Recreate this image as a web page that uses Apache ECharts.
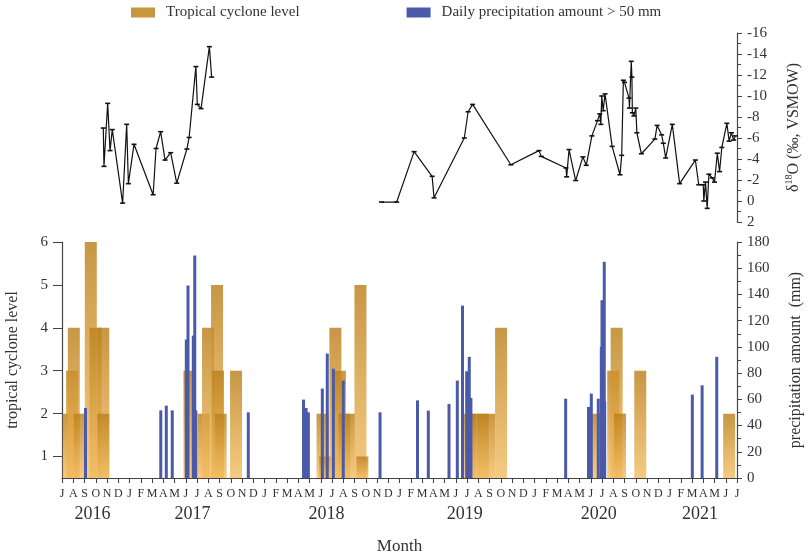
<!DOCTYPE html>
<html>
<head>
<meta charset="utf-8">
<script src="https://cdn.jsdelivr.net/npm/echarts@6/dist/echarts.min.js"></script>
<style>
  html, body { margin: 0; padding: 0; background: #fff; }
  #main { width: 809px; height: 552px; }
</style>
</head>
<body>
<div id="main"></div>
<script>
// month index: 0 = Jul 2016 ... 60 = Jul 2021
var monthLetters = ['J', 'A', 'S', 'O', 'N', 'D', 'J', 'F', 'M', 'A', 'M', 'J'];
var yearLabels = ['2016', '2017', '2018', '2019', '2020', '2021'];
var yearPos = [2.7, 11.6, 23.5, 35.8, 47.7, 56.7];

// δ18O samples (null = gap in record)
var isoMonth = [3.67, 3.73, 4.06, 4.27, 4.47, 5.39, 5.75, 5.9, 6.4, 8.1, 8.36, 8.77, 9.16, 9.66, 10.2, 11.1, 11.3, 11.9, 12.03, 12.36, 13.1, 13.3,
  20,
  28.4, 29.75, 31.3, 32.9, 33.07, 35.76, 36.1, 36.5, 39.9, 42.4,
  42.6, 44.8, 44.86, 45.07, 45.66, 46.3, 46.6, 47.1, 47.6, 47.8,
  47.9, 47.98, 48.1, 48.27, 48.9, 49.6, 49.75, 49.9, 50.0, 50.4,
  50.44, 50.6, 50.66, 50.7, 50.84, 51.0, 51.1, 51.5, 52.7, 52.9,
  53.3, 53.45, 53.66, 54.25, 54.9, 56.3, 56.6, 57.0, 57.05, 57.2,
  57.35, 57.5, 57.8, 58.0, 58.25, 58.45, 58.65, 59.1, 59.3, 59.5,
  59.7, 59.85];
var isoValue = [-6.95, -3.3, -9.3, -4.8, -6.8, 0.2, -7.3, -1.65, -5.4, -0.6, -5, -6.6, -3.9, -4.6, -1.7, -4.95, -6.05, -12.8, -9.2, -8.8, -14.7, -11.8,
  null,
  0.1, 0.1, -4.7, -2.35, -0.3, -6.0, -8.5, -9.2, -3.45, -4.8,
  -4.25, -3.15, -2.3, -4.9, -1.95, -4.2, -3.4, -6.2, -7.65, -8.3,
  -7.3, -10, -8.6, -10.2, -5.2, -2.5, -4.35, -11.5, -11.3, -9.8,
  -8.85, -13.3, -11.8, -8.4, -8.1, -8.85, -6.5, -4.5, -5.9, -7.2,
  -6.3, -5.5, -4.1, -7.3, -1.65, -3.9, -1.55, -1.55, 0, -1.8,
  0.7, -2.55, -2.2, -1.8, -4.55, -2.8, -5.1, -7.4, -5.7, -6.5,
  -5.8, -6.2];

// tropical cyclones
var cycMonth = [0.6, 0.9, 1.05, 1.57, 2.56, 2.98, 3.67, 3.67,
  11.33, 12.6, 12.98, 13.78, 13.87, 14.1, 15.47,
  23.16, 23.4, 24.3, 24.7, 25.1, 25.5, 26.53, 26.7,
  36.27, 36.9, 37.4, 37.96, 39.03,
  47.4, 49.0, 49.3, 49.6, 51.4,
  59.3];
var cycLevel = [2, 3, 4, 2, 6, 4, 4, 2,
  3, 2, 4, 5, 3, 2, 3,
  2, 1, 4, 3, 2, 2, 5, 1,
  2, 2, 2, 2, 4,
  2, 3, 4, 2, 3,
  2];

// daily precipitation > 50 mm
var rainMonth = [2.09, 8.78, 9.27, 9.8, 11.05, 11.2, 11.67, 11.8, 11.9, 16.56,
  21.47, 21.7, 21.9, 23.14, 23.58, 24.12, 25.0, 28.27,
  31.6, 32.56, 34.4, 35.14, 35.6, 35.97, 36.2, 36.35,
  44.77, 46.8, 47.05, 47.67, 47.94, 48.0, 48.2, 48.24,
  56.03, 56.9, 58.2];
var rainMm = [53.4, 51.6, 55.2, 51.6, 105.6, 146.8, 108.6, 169.7, 51.6, 50.1,
  59.8, 53.4, 50.1, 68.2, 94.9, 83.4, 74.3, 50.1,
  59.2, 51.4, 56.5, 74.3, 131.5, 81.4, 92.4, 61,
  60.5, 54.2, 64.4, 60.5, 100, 135.6, 164.9, 58.5,
  63.6, 70.7, 92.4];

var FONT = "'Liberation Serif', 'Times New Roman', serif";
var TXT = '#333';

function pairs(xs, ys) {
  var out = [];
  for (var i = 0; i < xs.length; i++) {
    out.push([xs[i], ys[i] === null ? '-' : ys[i]]);
  }
  return out;
}

var goldFill = new echarts.graphic.LinearGradient(0, 0, 0, 1, [
  { offset: 0, color: 'rgba(188,128,28,0.82)' },
  { offset: 1, color: 'rgba(242,188,95,0.78)' }
]);

var axisLineStyle = { color: '#444', width: 1.2 };

var chart = echarts.init(document.getElementById('main'));
chart.setOption({
  animation: false,
  backgroundColor: '#fff',
  textStyle: { fontFamily: FONT },
  legend: {
    left: 126, top: 0,
    icon: 'rect', itemWidth: 24, itemHeight: 10, itemGap: 107,
    textStyle: { fontFamily: FONT, fontSize: 15, color: TXT, padding: [0, 0, 0, 6] },
    data: [
      { name: 'Tropical cyclone level', itemStyle: { color: '#c8963c' } },
      { name: 'Daily precipitation amount > 50 mm', itemStyle: { color: '#4a5aa8' } }
    ]
  },
  grid: [
    { left: 62, right: 72, top: 33, height: 189, outerBoundsMode: 'none' },
    { left: 62, right: 72, top: 242, bottom: 74, outerBoundsMode: 'none' }
  ],
  xAxis: [
    { type: 'value', gridIndex: 0, min: 0, max: 60, show: false },
    {
      type: 'value', gridIndex: 1, position: 'bottom', min: 0, max: 60, interval: 1,
      name: 'Month', nameLocation: 'middle', nameGap: 60,
      nameTextStyle: { fontFamily: FONT, fontSize: 17, color: TXT },
      axisLine: { onZero: false, lineStyle: axisLineStyle },
      axisTick: { length: 5, lineStyle: { color: '#444' } },
      splitLine: { show: false },
      axisLabel: {
        fontFamily: FONT, fontSize: 12, color: TXT, margin: 10,
        showMinLabel: true, showMaxLabel: true,
        formatter: function (v) { return monthLetters[Math.round(v) % 12]; }
      }
    },
    {
      type: 'value', gridIndex: 1, position: 'bottom', min: 0, max: 60,
      axisLine: { show: false, onZero: false }, axisTick: { show: false }, splitLine: { show: false },
      axisLabel: {
        customValues: yearPos, margin: 27,
        fontFamily: FONT, fontSize: 18, color: TXT,
        formatter: function (v) {
          for (var i = 0; i < yearPos.length; i++) {
            if (Math.abs(yearPos[i] - v) < 1e-6) return yearLabels[i];
          }
          return '';
        }
      }
    },
    { type: 'value', gridIndex: 1, position: 'bottom', min: 0, max: 60, show: false }
  ],
  yAxis: [
    {
      type: 'value', gridIndex: 0, position: 'right', inverse: true,
      min: -16, max: 2, interval: 2,
      name: '{t|δ}{s|18}{t|O (‰, VSMOW)}', nameLocation: 'middle', nameGap: 47,
      nameTextStyle: {
        color: TXT,
        rich: {
          t: { fontFamily: FONT, fontSize: 16, color: TXT, lineHeight: 20 },
          s: { fontFamily: FONT, fontSize: 10, color: TXT, lineHeight: 20, verticalAlign: 'top' }
        }
      },
      axisLine: { show: true, onZero: false, lineStyle: axisLineStyle },
      axisTick: { show: true, length: 5, lineStyle: { color: '#444' } },
      minorTick: { show: true, splitNumber: 2, length: 4, lineStyle: { color: '#444' } },
      splitLine: { show: false },
      axisLabel: { fontFamily: FONT, fontSize: 15, color: TXT, margin: 10 }
    },
    {
      type: 'value', gridIndex: 1, position: 'left',
      min: 0.5, max: 6,
      name: 'tropical cyclone level', nameLocation: 'middle', nameGap: 41,
      nameTextStyle: { fontFamily: FONT, fontSize: 16, color: TXT },
      axisLine: { show: true, onZero: false, lineStyle: axisLineStyle },
      axisTick: { show: true, length: 9, customValues: [1, 2, 3, 4, 5, 6], lineStyle: { color: '#444' } },
      splitLine: { show: false },
      axisLabel: { fontFamily: FONT, fontSize: 15, color: TXT, margin: 14, customValues: [1, 2, 3, 4, 5, 6] }
    },
    {
      type: 'value', gridIndex: 1, position: 'right',
      min: 0, max: 180, interval: 20,
      name: 'precipitation amount  (mm)', nameLocation: 'middle', nameGap: 51,
      nameTextStyle: { fontFamily: FONT, fontSize: 16, color: TXT },
      axisLine: { show: true, onZero: false, lineStyle: axisLineStyle },
      axisTick: { show: true, length: 5, lineStyle: { color: '#444' } },
      minorTick: { show: true, splitNumber: 2, length: 4, lineStyle: { color: '#444' } },
      splitLine: { show: false },
      axisLabel: { fontFamily: FONT, fontSize: 15, color: TXT, margin: 10 }
    }
  ],
  series: [
    {
      name: 'δ18O', type: 'line', xAxisIndex: 0, yAxisIndex: 0,
      data: pairs(isoMonth, isoValue),
      connectNulls: false,
      symbol: 'rect', symbolSize: [5, 1.6], showAllSymbol: true,
      lineStyle: { color: '#111', width: 1.2 },
      itemStyle: { color: '#111' }
    },
    {
      name: 'Tropical cyclone level', type: 'bar', xAxisIndex: 1, yAxisIndex: 1,
      data: pairs(cycMonth, cycLevel),
      barWidth: 12,
      itemStyle: { color: goldFill }
    },
    {
      name: 'Daily precipitation amount > 50 mm', type: 'bar', xAxisIndex: 3, yAxisIndex: 2,
      data: pairs(rainMonth, rainMm),
      barWidth: 3,
      itemStyle: { color: '#4a5aa8' }
    }
  ]
});
</script>
</body>
</html>
